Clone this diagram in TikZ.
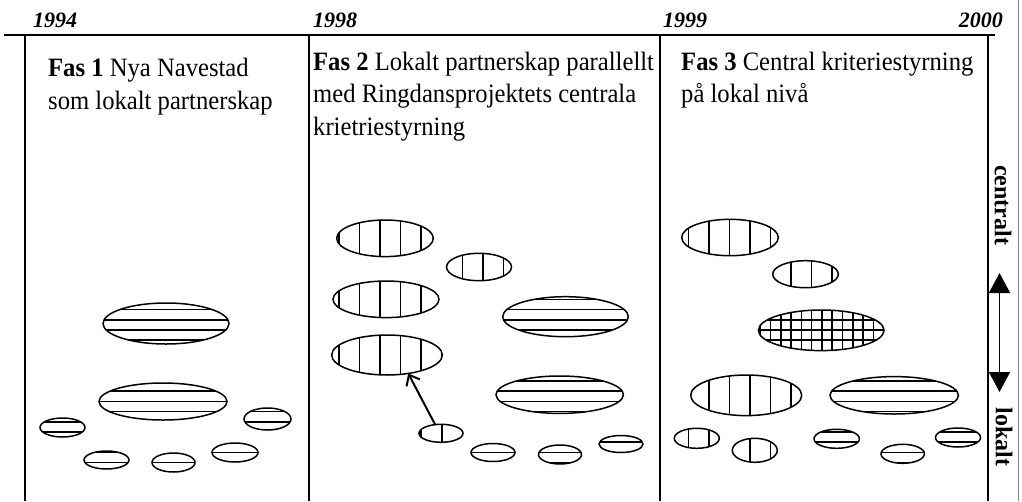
\documentclass[tikz,border=0pt]{standalone}
\usepackage{fontspec}
\setmainfont{Liberation Serif}
\usetikzlibrary{shapes.geometric,arrows.meta}
\tikzset{
  frame/.style={line width=2.6pt},
  hatch/.style={line width=1.6pt},
  ellnode/.style={ellipse, draw, line width=1.5pt, inner sep=0pt, outer sep=0pt},
  phase/.style={anchor=base west, inner sep=0pt, xscale=0.93, transform shape, font=\fontsize{26.5}{31}\selectfont},
  year/.style={inner sep=0pt, font=\fontsize{22}{26}\selectfont\bfseries\itshape},
  side/.style={rotate=-90, inner sep=0pt, font=\fontsize{24}{28}\selectfont\bfseries},
  linkarrow/.style={line width=2pt, -{Straight Barb[length=9pt,width=15pt]}},
  scalearrow/.style={line width=1.6pt, {Triangle[length=20pt,width=21pt]}-{Triangle[length=20pt,width=21pt]}},
}
\newcommand\EllBase[6]{%
  \begin{scope}
    \clip (#2,#3) ellipse [x radius=#4, y radius=#5];
    #6
  \end{scope}
  \node[ellnode, minimum width={2*#4}, minimum height={2*#5}] (#1) at (#2,#3) {};
}
\newcommand\HL{\foreach \k in {-12,...,20} \draw[hatch] (0,{299.3+10.2*\k}) -- (1022,{299.3+10.2*\k});}
\newcommand\VL{\foreach \k in {-16,...,31} \draw[hatch] ({339+20.55*\k},150) -- ({339+20.55*\k},501);}
\newcommand\VLf{\foreach \k in {-32,...,62} \draw[hatch] ({339+10.275*\k},150) -- ({339+10.275*\k},501);}
\newcommand\EllH[5]{\EllBase{#1}{#2}{#3}{#4}{#5}{\HL}}
\newcommand\EllV[5]{\EllBase{#1}{#2}{#3}{#4}{#5}{\VL}}
\newcommand\EllX[5]{\EllBase{#1}{#2}{#3}{#4}{#5}{\HL\VLf}}
\begin{document}
\begin{tikzpicture}[x=1pt,y=-1pt]
\useasboundingbox (0,0) rectangle (1022,501);
% frame
\draw[frame] (4,35) -- (995,35);
\draw[frame] (25,35) -- (25,501);
\draw[frame] (309,35) -- (309,501);
\draw[frame] (660,35) -- (660,501);
\draw[frame] (988,35) -- (988,501);
\draw[line width=0.8pt, gray] (1018,0) -- (1018,501);
% years
\node[year, anchor=base west] (y1) at (33,27) {1994};
\node[year, anchor=base west] (y2) at (313,27) {1998};
\node[year, anchor=base west] (y3) at (663,27) {1999};
\node[year, anchor=base east] (y4) at (1003,27) {2000};
% phase texts
\node[phase] (f1a) at (48,76) {\textbf{Fas 1} Nya Navestad};
\node[phase] (f1b) at (48,109) {som lokalt partnerskap};
\node[phase] (f2a) at (313,70) {\textbf{Fas 2} Lokalt partnerskap parallellt};
\node[phase] (f2b) at (313,102) {med Ringdansprojektets centrala};
\node[phase] (f2c) at (313,135) {krietriestyrning};
\node[phase] (f3a) at (681,70) {\textbf{Fas 3} Central kriteriestyrning};
\node[phase] (f3b) at (681,102) {på lokal nivå};
% panel 1
\EllH{a1}{166}{323.5}{63}{20.5}
\EllH{a2}{163}{401.5}{64}{18.5}
\EllH{a3}{62.5}{427.5}{22.5}{9.5}
\EllH{a4}{267.5}{419}{23.5}{11}
\EllH{a5}{106.5}{460}{22.5}{9}
\EllH{a6}{173.5}{462.5}{21.5}{9.5}
\EllH{a7}{235}{452.5}{23}{9.5}
% panel 2
\EllV{b1}{385}{238.3}{48.3}{18.3}
\EllV{b2}{479}{267}{32.5}{13.7}
\EllV{b3}{386}{299.3}{53}{18.3}
\EllV{b4}{387}{355}{55.3}{20}
\EllH{b5}{565.5}{316.7}{62.8}{20}
\EllH{b6}{559.7}{394.7}{63.7}{18.7}
\EllV{b7}{441}{433.3}{22}{9}
\EllH{b8}{493}{452.5}{22}{9}
\EllH{b9}{560}{454.5}{21.5}{9.5}
\EllH{b10}{621}{444}{22}{8.5}
\draw[linkarrow] (b7.124) -- (b4.-41);
% panel 3
\EllV{c1}{730}{237.5}{48.3}{18.2}
\EllV{c2}{805.5}{274.2}{32.8}{13.5}
\EllX{c3}{821.2}{330.3}{62.8}{20.3}
\EllV{c4}{746.2}{395.3}{55.5}{20.3}
\EllH{c5}{894.2}{395.3}{64.2}{18.7}
\EllV{c6}{696.8}{438.3}{22.5}{10}
\EllV{c7}{754.8}{450.3}{22.5}{12}
\EllH{c8}{836.7}{438.8}{22.7}{9.5}
\EllH{c9}{902.7}{453.8}{21.7}{9.5}
\EllH{c10}{958}{437.5}{22.5}{9.5}
% side scale
\node[side] (cen) at (1003,205) {centralt};
\node[side] (lok) at (1004,437) {lokalt};
\coordinate (up) at (999.5,273);
\coordinate (dn) at (999.5,392);
\draw[scalearrow] (up) -- (dn);
\end{tikzpicture}
\end{document}
